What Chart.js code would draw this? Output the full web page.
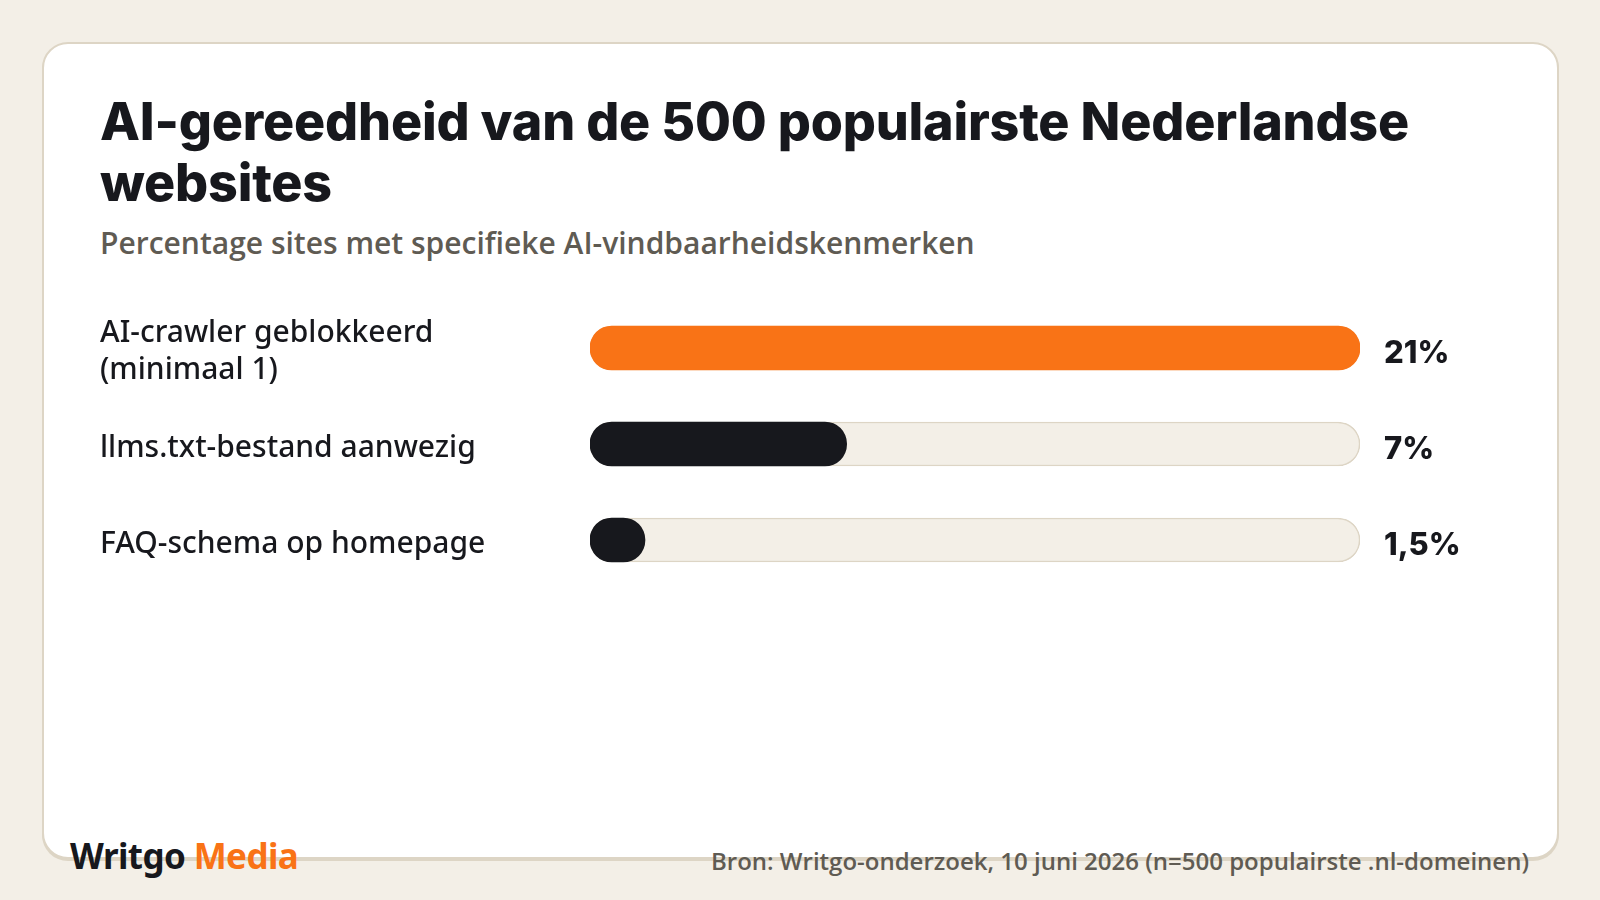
<!DOCTYPE html>
<html>
<head>
<meta charset="utf-8">
<script src="https://cdn.jsdelivr.net/npm/chart.js@4/dist/chart.umd.min.js"></script>
<style>
  html, body { margin: 0; padding: 0; }
  body { width: 1600px; height: 900px; background: #f3efe7; position: relative; overflow: hidden; }
  .card { position: absolute; left: 42px; top: 42px; width: 1513px; height: 813px; background: #fff;
          border: 2px solid #ddd5c5; border-radius: 26px; box-shadow: 0 2px 0 #ddd5c5; }
  .title { position: absolute; left: 100px; top: 91px; width: 1400px; margin: 0;
           font-family: Inter, sans-serif; font-weight: 800; font-size: 52px; line-height: 61px;
           letter-spacing: -0.2px; color: #17181d; }
  .subtitle { position: absolute; left: 100px; top: 224px; margin: 0;
              font-family: "Open Sans", sans-serif; font-weight: 600; font-size: 30px; line-height: 38px; color: #5f5b53; }
  .chart-box { position: absolute; left: 100px; top: 300px; width: 1420px; height: 288px; }
  .logo { position: absolute; left: 70px; top: 832px; font-family: "Noto Sans", sans-serif; font-weight: 700;
          font-size: 35px; letter-spacing: -0.6px; color: #17181d; }
  .logo span { color: #f97316; }
  .source { position: absolute; right: 71px; top: 844px; font-family: "Open Sans", sans-serif; font-weight: 600;
            font-size: 24px; color: #5f5b53; }
</style>
</head>
<body>
<div class="card"></div>
<h1 class="title">AI-gereedheid van de 500 populairste Nederlandse websites</h1>
<p class="subtitle">Percentage sites met specifieke AI-vindbaarheidskenmerken</p>
<div class="chart-box"><canvas id="bars"></canvas></div>
<div class="logo">Writgo <span>Media</span></div>
<div class="source">Bron: Writgo-onderzoek, 10 juni 2026 (n=500 populairste .nl-domeinen)</div>

<script>
var categories = [['AI-crawler geblokkeerd', '(minimaal 1)'], 'llms.txt-bestand aanwezig', 'FAQ-schema op homepage'];
var values = [21, 7, 1.5];
var barColors = ['#f97316', '#17181d', '#17181d'];
var scaleMax = 21;

// background track for every row, drawn at the full scale
var trackValues = categories.map(function(){ return scaleMax; });

var valueLabels = {
  id: 'valueLabels',
  afterDatasetsDraw: function(chart){
    var ctx = chart.ctx;
    var meta = chart.getDatasetMeta(0);
    ctx.save();
    ctx.font = '800 31px Inter, sans-serif';
    ctx.fillStyle = '#17181d';
    ctx.textAlign = 'left';
    ctx.textBaseline = 'middle';
    meta.data.forEach(function(bar, i){
      var txt = String(values[i]).replace('.', ',') + '%';
      ctx.fillText(txt, chart.chartArea.right + 24, bar.y + 6);
    });
    ctx.restore();
  }
};

var ctx = document.getElementById('bars').getContext('2d');
new Chart(ctx, {
  type: 'bar',
  data: {
    labels: categories,
    datasets: [
      {
        data: values,
        backgroundColor: barColors,
        borderWidth: 0,
        borderRadius: 22,
        borderSkipped: false,
        barThickness: 44,
        grouped: false,
        order: 0
      },
      {
        data: trackValues,
        backgroundColor: '#f3efe7',
        borderColor: '#ddd5c5',
        borderWidth: 1.5,
        borderRadius: 22,
        borderSkipped: false,
        barThickness: 44,
        grouped: false,
        order: 1
      }
    ]
  },
  options: {
    indexAxis: 'y',
    responsive: true,
    maintainAspectRatio: false,
    animation: false,
    layout: { padding: { left: 0, right: 160, top: 0, bottom: 0 } },
    plugins: { legend: { display: false }, tooltip: { enabled: false } },
    scales: {
      x: { display: false, min: 0, max: scaleMax },
      y: {
        grid: { display: false },
        border: { display: false },
        afterFit: function(scale){
          scale.width = 490;
          scale.paddingTop = 0;
          scale.paddingBottom = 0;
        },
        ticks: {
          crossAlign: 'far',
          labelOffset: 4,
          color: '#17181d',
          font: { family: '"Noto Sans", sans-serif', size: 30, weight: 500, lineHeight: 1.26 }
        }
      }
    }
  },
  plugins: [valueLabels]
});
</script>
</body>
</html>
